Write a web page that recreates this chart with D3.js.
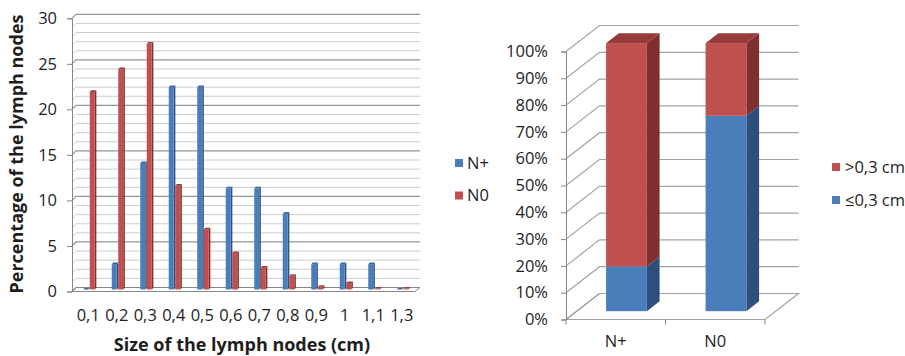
<!DOCTYPE html>
<html>
<head>
<meta charset="utf-8">
<script src="https://cdnjs.cloudflare.com/ajax/libs/d3/7.8.5/d3.min.js"></script>
<style>
  html, body { margin: 0; padding: 0; background: #fff; }
  svg { display: block; font-family: "Open Sans", sans-serif; }
</style>
</head>
<body>
<svg id="chart" width="905" height="356"></svg>
<script>
// ---- Left chart: distribution of lymph-node size (%)
const sizeLabels = ["0,1", "0,2", "0,3", "0,4", "0,5", "0,6", "0,7", "0,8", "0,9", "1", "1,1", "1,3"];
const nPlusPct = [0, 2.78, 13.89, 22.22, 22.22, 11.11, 11.11, 8.33, 2.78, 2.78, 2.78, 0];
const nZeroPct = [21.7, 24.2, 27.0, 11.4, 6.6, 4.0, 2.4, 1.5, 0.3, 0.7, 0.1, 0.1];
const leftSeries = ["N+", "N0"];
const leftTicks = [0, 5, 10, 15, 20, 25, 30];

// ---- Right chart: share of nodes ≤0,3 cm vs >0,3 cm (100% stacked)
const groups = ["N+", "N0"];
const smallShare = [16.7, 72.9];   // ≤0,3 cm
const largeShare = [83.3, 27.1];   // >0,3 cm
const rightSeries = [">0,3 cm", "≤0,3 cm"];
const pctTicks = [0, 10, 20, 30, 40, 50, 60, 70, 80, 90, 100];

const BLUE = "#4a7ebb", BLUE_SIDE = "#2f5180", BLUE_TOP = "#3b6699";
const RED = "#c0504d", RED_SIDE = "#7f2f2d", RED_TOP = "#963b39";
const GRID_MAJOR = "#959595", GRID_MINOR = "#cccccc", AXIS = "#868686";
const TEXT = "#1e1e1e";
const TICK_FS = 16.5, TITLE_FS = 18;

const svg = d3.select("#chart");
const poly = pts => "M" + pts.map(p => p.join(",")).join("L") + "Z";

// ================= LEFT CHART =================
{
  const x0 = 72, x1 = 415;          // front plane
  const dx = 4, dy = -4;            // depth of the 3D box
  const y = d3.scaleLinear().domain([0, 30]).range([291.5, 18.3]);
  const x = d3.scaleBand().domain(sizeLabels).range([x0 + 3, x1 + 2]);
  const g = svg.append("g");

  // walls: minor and major gridlines
  d3.range(0, 31).forEach(v => {
    const major = v % 5 === 0;
    const yy = y(v);
    g.append("path")
      .attr("d", `M${x0},${yy}L${x0 + dx},${yy + dy}L${x1 + dx + 1},${yy + dy}`)
      .attr("fill", "none")
      .attr("stroke", major ? GRID_MAJOR : GRID_MINOR)
      .attr("stroke-width", major ? 1.2 : 1);
  });
  // floor
  g.append("path")
    .attr("d", poly([[x0, y(0)], [x1, y(0)], [x1 + dx + 1, y(0) + dy], [x0 + dx, y(0) + dy]]))
    .attr("fill", "none").attr("stroke", AXIS).attr("stroke-width", 1);

  // value axis
  const yAxis = d3.axisLeft(y).tickValues(leftTicks).tickSize(5).tickPadding(10);
  const ya = g.append("g").attr("transform", `translate(${x0},0)`).call(yAxis);
  ya.select(".domain").attr("stroke", AXIS);
  ya.selectAll(".tick line").attr("stroke", AXIS);
  ya.selectAll("text").attr("font-size", TICK_FS).attr("fill", TEXT).attr("font-family", "Open Sans");

  // category labels
  g.selectAll(".xl").data(sizeLabels).join("text")
    .attr("x", d => x(d) + x.bandwidth() / 2 - 1)
    .attr("y", 321)
    .attr("text-anchor", "middle")
    .attr("font-size", TICK_FS).attr("fill", TEXT)
    .text(d => d);

  // 3D thin columns
  const w = 5, d = 1.6, base = y(0) - 2;
  const drawBar = (cx, v, front, side, top) => {
    const t = y(v) - 2;
    g.append("path").attr("d", poly([[cx + w, t], [cx + w + d, t - d], [cx + w + d, base - d], [cx + w, base]])).attr("fill", side);
    g.append("rect").attr("x", cx).attr("y", t).attr("width", w).attr("height", Math.max(0, base - t)).attr("fill", front);
    g.append("path").attr("d", poly([[cx, t], [cx + d, t - d], [cx + w + d, t - d], [cx + w, t]])).attr("fill", top);
  };
  sizeLabels.forEach((lab, i) => {
    const c = x(lab) + x.bandwidth() / 2;
    drawBar(c - w - 1, nPlusPct[i], BLUE, BLUE_SIDE, BLUE_TOP);
    drawBar(c + 0.5, nZeroPct[i], RED, RED_SIDE, RED_TOP);
  });

  // axis titles
  g.append("text")
    .attr("transform", "translate(22.5,154) rotate(-90)")
    .attr("text-anchor", "middle")
    .attr("font-size", TITLE_FS).attr("font-weight", "bold").attr("fill", TEXT)
    .text("Percentage of the lymph nodes");
  g.append("text")
    .attr("x", 242).attr("y", 350.5)
    .attr("text-anchor", "middle")
    .attr("font-size", TITLE_FS).attr("font-weight", "bold").attr("fill", TEXT)
    .text("Size of the lymph nodes (cm)");

  // legend
  const lg = g.append("g");
  [BLUE, RED].forEach((c, i) => {
    lg.append("rect").attr("x", 455).attr("y", 163 + i * 32.5 - 4).attr("width", 8).attr("height", 8).attr("fill", c);
    lg.append("text").attr("x", 467).attr("y", 163 + i * 32.5).attr("dy", "0.35em")
      .attr("font-size", TICK_FS).attr("fill", TEXT).text(leftSeries[i]);
  });
}

// ================= RIGHT CHART =================
{
  const x0 = 566, x1 = 765;
  const dx = 33.5, dy = -26;
  const y = d3.scaleLinear().domain([0, 100]).range([319.5, 51.5]);
  const x = d3.scaleBand().domain(groups).range([x0, x1]);
  const g = svg.append("g");

  // side wall diagonals + back wall gridlines
  pctTicks.forEach(v => {
    const yy = y(v);
    g.append("path")
      .attr("d", `M${x0},${yy}L${x0 + dx},${yy + dy}L${x1 + dx},${yy + dy}`)
      .attr("fill", "none").attr("stroke", "#a3a3a3").attr("stroke-width", 1.2);
  });
  // floor outline
  g.append("path")
    .attr("d", poly([[x0, y(0)], [x1, y(0)], [x1 + dx, y(0) + dy], [x0 + dx, y(0) + dy]]))
    .attr("fill", "none").attr("stroke", "#a3a3a3").attr("stroke-width", 1.2);

  // value axis
  const yAxis = d3.axisLeft(y).tickValues(pctTicks).tickSize(5).tickPadding(13)
    .tickFormat(v => v + "%");
  const ya = g.append("g").attr("transform", `translate(${x0},0)`).call(yAxis);
  ya.select(".domain").attr("stroke", AXIS);
  ya.selectAll(".tick line").attr("stroke", AXIS);
  ya.selectAll("text").attr("font-size", TICK_FS).attr("fill", TEXT).attr("font-family", "Open Sans");

  // category ticks under the floor front edge
  g.selectAll(".ct").data([x0, x0 + x.bandwidth(), x1]).join("line")
    .attr("x1", d => d).attr("x2", d => d)
    .attr("y1", y(0)).attr("y2", y(0) + 5)
    .attr("stroke", AXIS);
  g.selectAll(".cl").data(groups).join("text")
    .attr("x", d => x(d) + x.bandwidth() / 2)
    .attr("y", 347)
    .attr("text-anchor", "middle")
    .attr("font-size", TICK_FS).attr("fill", TEXT)
    .text(d => d);

  // stacked 3D columns
  const f1 = 0.32, f2 = 0.70;
  const bw = x.bandwidth() * 0.41;
  const stacks = groups.map((gname, i) => [
    { lo: 0, hi: smallShare[i], front: BLUE, side: "#2d4f7c", top: "#3d6aa1" },
    { lo: smallShare[i], hi: smallShare[i] + largeShare[i], front: RED, side: RED_SIDE, top: RED_TOP }
  ]);
  const ox = dx * f1, oy = dy * f1;
  const ddx = dx * (f2 - f1), ddy = dy * (f2 - f1);
  groups.forEach((gname, i) => {
    const left = x(gname) + x.bandwidth() / 2 - bw / 2 + ox;
    const right = left + bw;
    stacks[i].forEach((s, k) => {
      const yb = y(s.lo) + oy, yt = y(s.hi) + oy;
      g.append("path").attr("d", poly([[right, yt], [right + ddx, yt + ddy], [right + ddx, yb + ddy], [right, yb]])).attr("fill", s.side);
      g.append("rect").attr("x", left).attr("y", yt).attr("width", bw).attr("height", yb - yt).attr("fill", s.front);
      if (k === stacks[i].length - 1) {
        g.append("path").attr("d", poly([[left, yt], [left + ddx, yt + ddy], [right + ddx, yt + ddy], [right, yt]])).attr("fill", s.top);
      }
    });
  });

  // legend
  [RED, BLUE].forEach((c, i) => {
    g.append("rect").attr("x", 832).attr("y", 167 + i * 33 - 4).attr("width", 8).attr("height", 8).attr("fill", c);
    g.append("text").attr("x", 845).attr("y", 167 + i * 33).attr("dy", "0.35em")
      .attr("font-size", TICK_FS).attr("fill", TEXT).text(rightSeries[i]);
  });
}
</script>
</body>
</html>
